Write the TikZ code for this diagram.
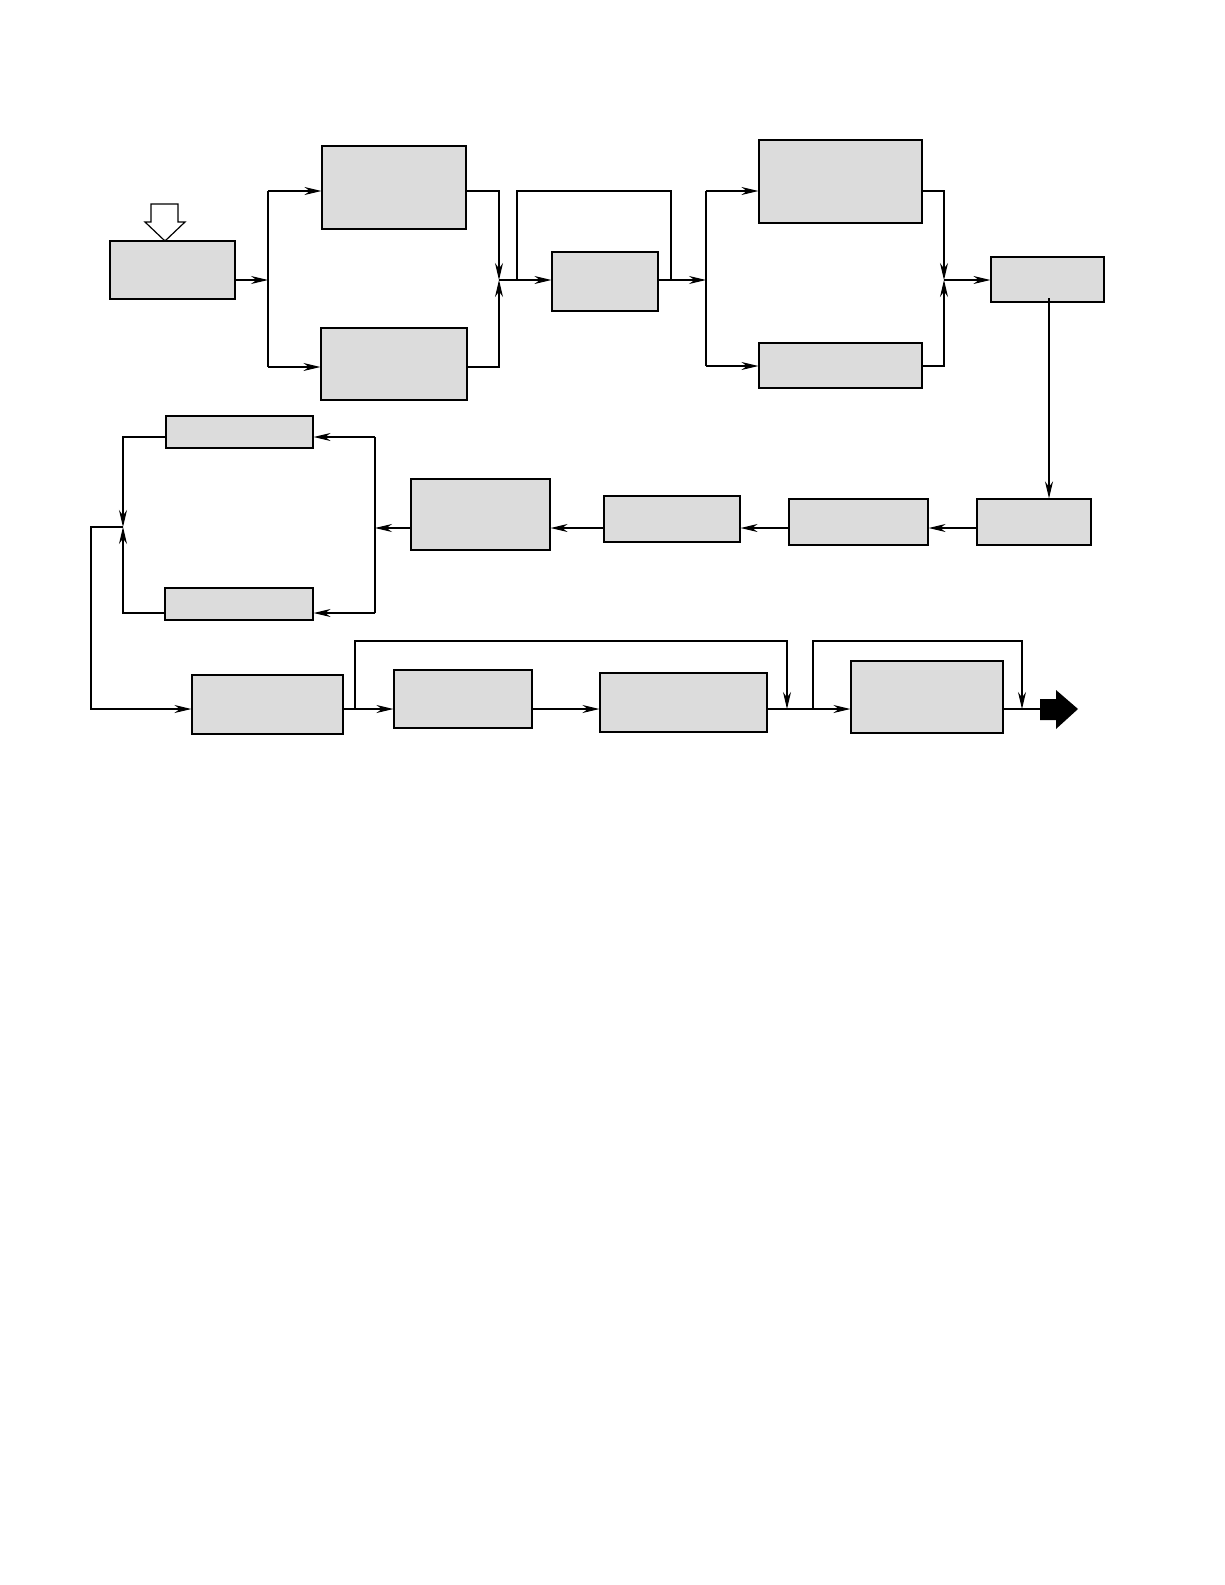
\documentclass[tikz,border=0pt]{standalone}
\usetikzlibrary{arrows.meta}
\begin{document}
\begin{tikzpicture}[x=1pt,y=-1pt,
  box/.style={draw,line width=1.2pt,fill={rgb,255:red,220;green,220;blue,220},inner sep=0pt},
  ln/.style={line width=1.1pt},
  ar/.style={ln,-{Stealth[length=17pt,width=8pt]}}]
\useasboundingbox (0,0) rectangle (1225,1585);
\newcommand\bx[5]{\node[box,minimum width={#4-#2},minimum height={#5-#3}] (#1) at ({(#2+#4)/2},{(#3+#5)/2}) {};}
\bx{A}{110}{241}{235}{299}
\bx{B}{322}{146}{466}{229}
\bx{C}{321}{328}{467}{400}
\bx{D}{552}{252}{658}{311}
\bx{E}{759}{140}{922}{223}
\bx{F}{759}{343}{922}{388}
\bx{G}{991}{257}{1104}{302}
\bx{H}{977}{499}{1091}{545}
\bx{I}{789}{499}{928}{545}
\bx{J}{604}{496}{740}{542}
\bx{K}{411}{479}{550}{550}
\bx{L}{166}{416}{313}{448}
\bx{M}{165}{588}{313}{620}
\bx{N}{192}{675}{343}{734}
\bx{O}{394}{670}{532}{728}
\bx{P}{600}{673}{767}{732}
\bx{Q}{851}{661}{1003}{733}
% input hollow arrow
\draw[line width=1.2pt,fill=white] (151,204) -- (178,204) -- (178,222) -- (185,222) -- (165,241) -- (145,222) -- (151,222) -- cycle;
% row 1
\draw[ar] (A.east|-0,280) -- (268,280);
\draw[ln] (268,191) -- (268,367);
\draw[ar] (268,191) -- (B.west|-0,191);
\draw[ar] (268,367) -- (C.west|-0,367);
\draw[ar] (B.east|-0,191) -- (499,191) -- (499,280);
\draw[ar] (C.east|-0,367) -- (499,367) -- (499,280);
\draw[ar] (499,280) -- (D.west|-0,280);
\draw[ln] (517,280) -- (517,191) -- (671,191) -- (671,280);
\draw[ar] (D.east|-0,280) -- (706,280);
\draw[ln] (706,191) -- (706,366);
\draw[ar] (706,191) -- (E.west|-0,191);
\draw[ar] (706,366) -- (F.west|-0,366);
\draw[ar] (E.east|-0,191) -- (944,191) -- (944,280);
\draw[ar] (F.east|-0,366) -- (944,366) -- (944,280);
\draw[ar] (944,280) -- (G.west|-0,280);
\draw[ar] (1049,298) -- (1049,0|-H.north);
% row 2
\draw[ar] (H.west|-0,528) -- (I.east|-0,528);
\draw[ar] (I.west|-0,528) -- (J.east|-0,528);
\draw[ar] (J.west|-0,528) -- (K.east|-0,528);
\draw[ar] (K.west|-0,528) -- (375,528);
\draw[ln] (375,437) -- (375,613);
\draw[ar] (375,437) -- (L.east|-0,437);
\draw[ar] (375,613) -- (M.east|-0,613);
\draw[ar] (L.west|-0,437) -- (123,437) -- (123,527);
\draw[ar] (M.west|-0,613) -- (123,613) -- (123,527);
\draw[ar] (123,527) -- (91,527) -- (91,709) -- (N.west|-0,709);
% row 3
\draw[ar] (N.east|-0,709) -- (O.west|-0,709);
\draw[ar] (355,709) -- (355,641) -- (787,641) -- (787,709);
\draw[ar] (O.east|-0,709) -- (P.west|-0,709);
\draw[ar] (P.east|-0,709) -- (Q.west|-0,709);
\draw[ar] (813,709) -- (813,641) -- (1022,641) -- (1022,709);
\draw[ln] (Q.east|-0,709) -- (1040,709);
\node[coordinate] (out) at (1040,709) {};
\fill (1040,699) -- (1056,699) -- (1056,690) -- (1078,709) -- (1056,729) -- (1056,720) -- (1040,720) -- cycle;
\end{tikzpicture}
\end{document}
